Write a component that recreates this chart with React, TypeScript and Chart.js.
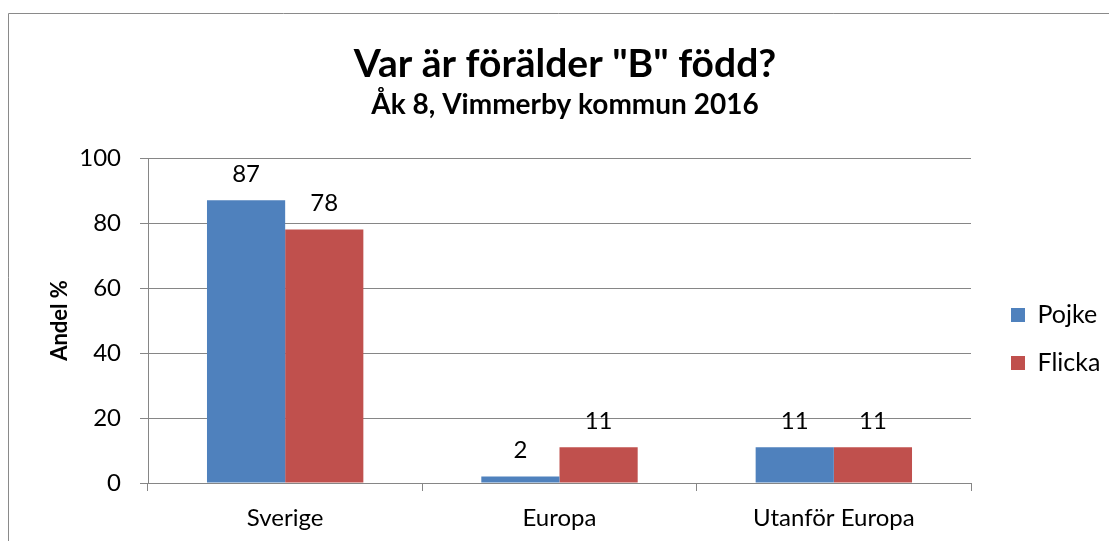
import React, { useEffect, useRef } from "react";
import { Chart, registerables } from "chart.js";

Chart.register(...registerables);

const categories = ["Sverige", "Europa", "Utanför Europa"];
const pojke = [87, 2, 11];
const flicka = [78, 11, 11];
const seriesNames = ["Pojke", "Flicka"];
const titleText = 'Var är förälder "B" född?';
const subtitleText = "Åk 8, Vimmerby kommun 2016";
const yTitle = "Andel %";

const FONT = "Lato";
const GRID = "#868686";

const framePlugin = {
  id: "frame",
  beforeDraw(chart: any) {
    const ctx = chart.ctx;
    ctx.save();
    ctx.strokeStyle = "#8a8a8a";
    ctx.lineWidth = 1;
    ctx.beginPath();
    ctx.moveTo(8.5, chart.height);
    ctx.lineTo(8.5, 13.5);
    ctx.lineTo(chart.width, 13.5);
    ctx.stroke();
    ctx.restore();
  },
};

const placer = {
  id: "placer",
  afterLayout(chart: any) {
    const l = chart.legend;
    if (l) {
      const w = l.width;
      const h = l.height;
      l.left = 988;
      l.right = l.left + w;
      l.top = 279.5;
      l.bottom = l.top + h;
    }
    chart.boxes.forEach((b: any) => {
      if (b && !b.axis && !b.legendItems && b.options && typeof b.options.text === "string") {
        b.left = 0;
        b.right = 1130;
        b.width = 1130;
      }
    });
  },
};

const valueLabels = {
  id: "valueLabels",
  afterDatasetsDraw(chart: any) {
    const ctx = chart.ctx;
    ctx.save();
    ctx.font = `24px ${FONT}`;
    ctx.fillStyle = "#000";
    ctx.textAlign = "center";
    ctx.textBaseline = "middle";
    chart.data.datasets.forEach((ds: any, di: number) => {
      const meta = chart.getDatasetMeta(di);
      meta.data.forEach((bar: any, i: number) => {
        ctx.fillText(String(ds.data[i]), bar.x, bar.y - 26);
      });
    });
    ctx.restore();
  },
};

export default function App() {
  const ref = useRef<HTMLCanvasElement>(null);
  useEffect(() => {
    if (!ref.current) return;
    const chart = new Chart(ref.current, {
      type: "bar",
      data: {
        labels: categories,
        datasets: [
          { label: seriesNames[0], data: pojke, backgroundColor: "#4F81BD", borderWidth: 0 },
          { label: seriesNames[1], data: flicka, backgroundColor: "#C0504D", borderWidth: 0 },
        ],
      },
      options: {
        responsive: false,
        animation: false,
        devicePixelRatio: 1,
        layout: { padding: { left: 0, right: 138, top: 0, bottom: 0 } },
        datasets: { bar: { categoryPercentage: 0.57, barPercentage: 1 } },
        plugins: {
          title: {
            display: true,
            text: titleText,
            color: "#000",
            font: { family: FONT, size: 39, weight: "bold" },
            padding: { top: 40.6, bottom: 0 },
          },
          subtitle: {
            display: true,
            text: subtitleText,
            color: "#000",
            font: { family: FONT, size: 28, weight: "bold" },
            padding: { top: 0.8, bottom: 36.2 },
          },
          legend: {
            position: "chartArea",
            align: "start",
            labels: {
              boxWidth: 14,
              boxHeight: 14,
              padding: 23,
              color: "#000",
              font: { family: FONT, size: 25 },
            },
          },
          tooltip: { enabled: false },
        },
        scales: {
          x: {
            offset: true,
            grid: { offset: true, drawOnChartArea: false, drawTicks: true, tickLength: 8, color: GRID },
            border: { color: GRID },
            ticks: { color: "#000", font: { family: FONT, size: 24 }, padding: 12.6, maxRotation: 0 },
            afterFit(scale: any) {
              scale.height = 58;
            },
          },
          y: {
            min: 0,
            max: 100,
            ticks: { stepSize: 20, color: "#000", font: { family: FONT, size: 24 }, padding: 19 },
            grid: { color: GRID, tickLength: 8 },
            border: { color: GRID },
            title: {
              display: true,
              text: yTitle,
              color: "#000",
              font: { family: FONT, size: 22, weight: "bold" },
              padding: { top: 46.8, bottom: 0 },
            },
            afterFit(scale: any) {
              scale.width = 148;
            },
          },
        },
      },
      plugins: [framePlugin, placer, valueLabels],
    } as any);
    return () => chart.destroy();
  }, []);
  return (
    <div style={{ position: "absolute", left: 0, top: 0, width: 1109, height: 541 }}>
      <canvas ref={ref} width={1109} height={541} style={{ display: "block", width: 1109, height: 541 }} />
    </div>
  );
}
